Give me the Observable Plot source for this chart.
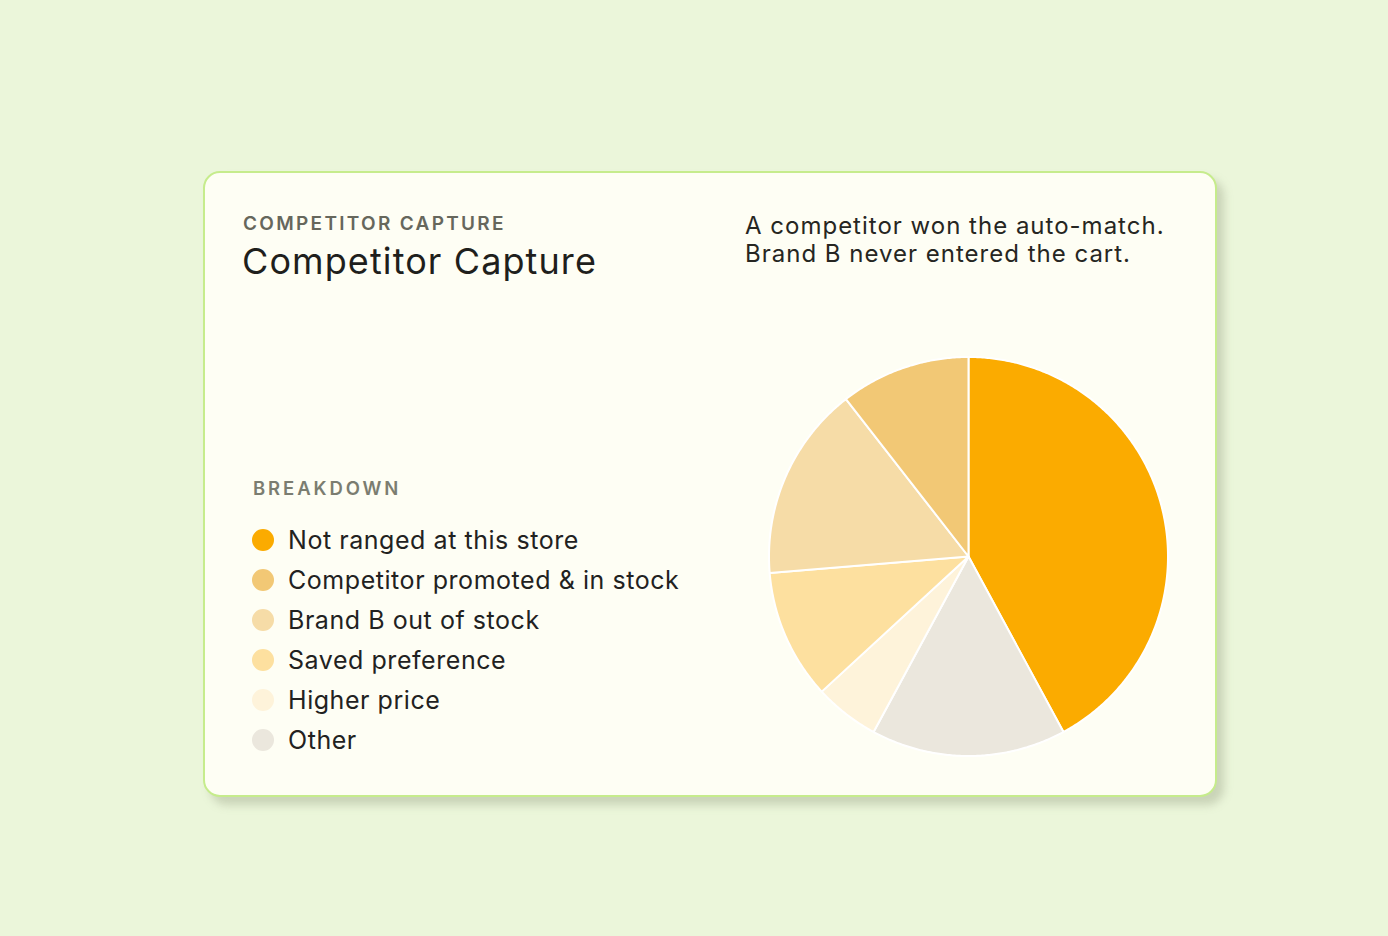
<!DOCTYPE html>
<html>
<head>
<meta charset="utf-8">
<script src="https://cdn.jsdelivr.net/npm/d3@7"></script>
<script src="https://cdn.jsdelivr.net/npm/@observablehq/plot@0.6"></script>
<style>
  html, body { margin: 0; padding: 0; }
  body { width: 1388px; height: 936px; background: #ebf6da; position: relative; overflow: hidden; font-family: Inter, "Noto Sans", sans-serif; }
  .card { position: absolute; left: 203px; top: 171px; width: 1010px; height: 622px; background: #fefef4; border: 2px solid #c6ec8c; border-radius: 17px; box-shadow: 7px 8px 8px rgba(140,150,120,0.35); }
  .eyebrow { position: absolute; left: 243px; top: 212px; font-size: 19px; font-weight: 600; letter-spacing: 2.3px; color: #66675c; }
  .title { position: absolute; left: 242px; top: 239px; font-size: 36px; font-weight: 400; color: #1f1f1c; letter-spacing: 1.1px; }
  .note { position: absolute; left: 745px; top: 212px; font-size: 24px; line-height: 28px; color: #262622; letter-spacing: 1px; }
  .lgtitle { position: absolute; left: 253px; top: 477px; font-size: 18.5px; font-weight: 600; letter-spacing: 2.9px; color: #7b7d70; }
  .legend { position: absolute; left: 252px; top: 520px; }
  .item { display: flex; align-items: center; height: 40px; font-size: 25px; color: #22221f; letter-spacing: 0.55px; }
  .sw { width: 22px; height: 22px; border-radius: 50%; margin-right: 14px; flex: none; }
  #pie { position: absolute; left: 768px; top: 356px; }
  #pie svg { overflow: visible; }
</style>
</head>
<body>
<div class="card"></div>
<div class="eyebrow">COMPETITOR CAPTURE</div>
<div class="title">Competitor Capture</div>
<div class="note">A competitor won the auto-match.<br>Brand B never entered the cart.</div>
<div class="lgtitle">BREAKDOWN</div>
<div class="legend" id="legend"></div>
<div id="pie"></div>
<script>
// Legend order (categories) with values (counts) and colours
const categories = ["Not ranged at this store", "Competitor promoted & in stock", "Brand B out of stock", "Saved preference", "Higher price", "Other"];
const values = [80, 20, 30, 20, 10, 30];
const colors = ["#fbab00", "#f2c875", "#f6dca7", "#fde09f", "#fef3da", "#ebe7dd"];
// Order in which slices run clockwise from 12 o'clock
const pieOrder = ["Not ranged at this store", "Other", "Higher price", "Saved preference", "Brand B out of stock", "Competitor promoted & in stock"];

// Legend
const lg = document.getElementById("legend");
categories.forEach((c, i) => {
  const row = document.createElement("div");
  row.className = "item";
  const sw = document.createElement("span");
  sw.className = "sw";
  sw.style.background = colors[i];
  row.appendChild(sw);
  row.appendChild(document.createTextNode(c));
  lg.appendChild(row);
});

// Pie geometry from the values
const ordered = pieOrder.map(k => ({label: k, value: values[categories.indexOf(k)]}));
const arcs = d3.pie().sort(null).value(d => d.value)(ordered);
const pts = [];
arcs.forEach(a => {
  const lab = a.data.label;
  pts.push({label: lab, x: 0, y: 0});
  const n = Math.max(2, Math.ceil((a.endAngle - a.startAngle) / (Math.PI / 360)));
  for (let j = 0; j <= n; j++) {
    const t = a.startAngle + (a.endAngle - a.startAngle) * j / n;
    pts.push({label: lab, x: Math.sin(t), y: Math.cos(t)});
  }
});

const chart = Plot.plot({
  width: 400,
  height: 400,
  margin: 0,
  x: {domain: [-1.0025, 1.0025], axis: null},
  y: {domain: [-1.0025, 1.0025], axis: null},
  color: {domain: categories, range: colors},
  style: {background: "transparent", overflow: "visible"},
  marks: [
    Plot.line(pts, {x: "x", y: "y", z: "label", fill: "label", stroke: "#ffffff", strokeWidth: 2, strokeLinejoin: "round", curve: "linear-closed"})
  ]
});
document.getElementById("pie").appendChild(chart);
</script>
</body>
</html>
